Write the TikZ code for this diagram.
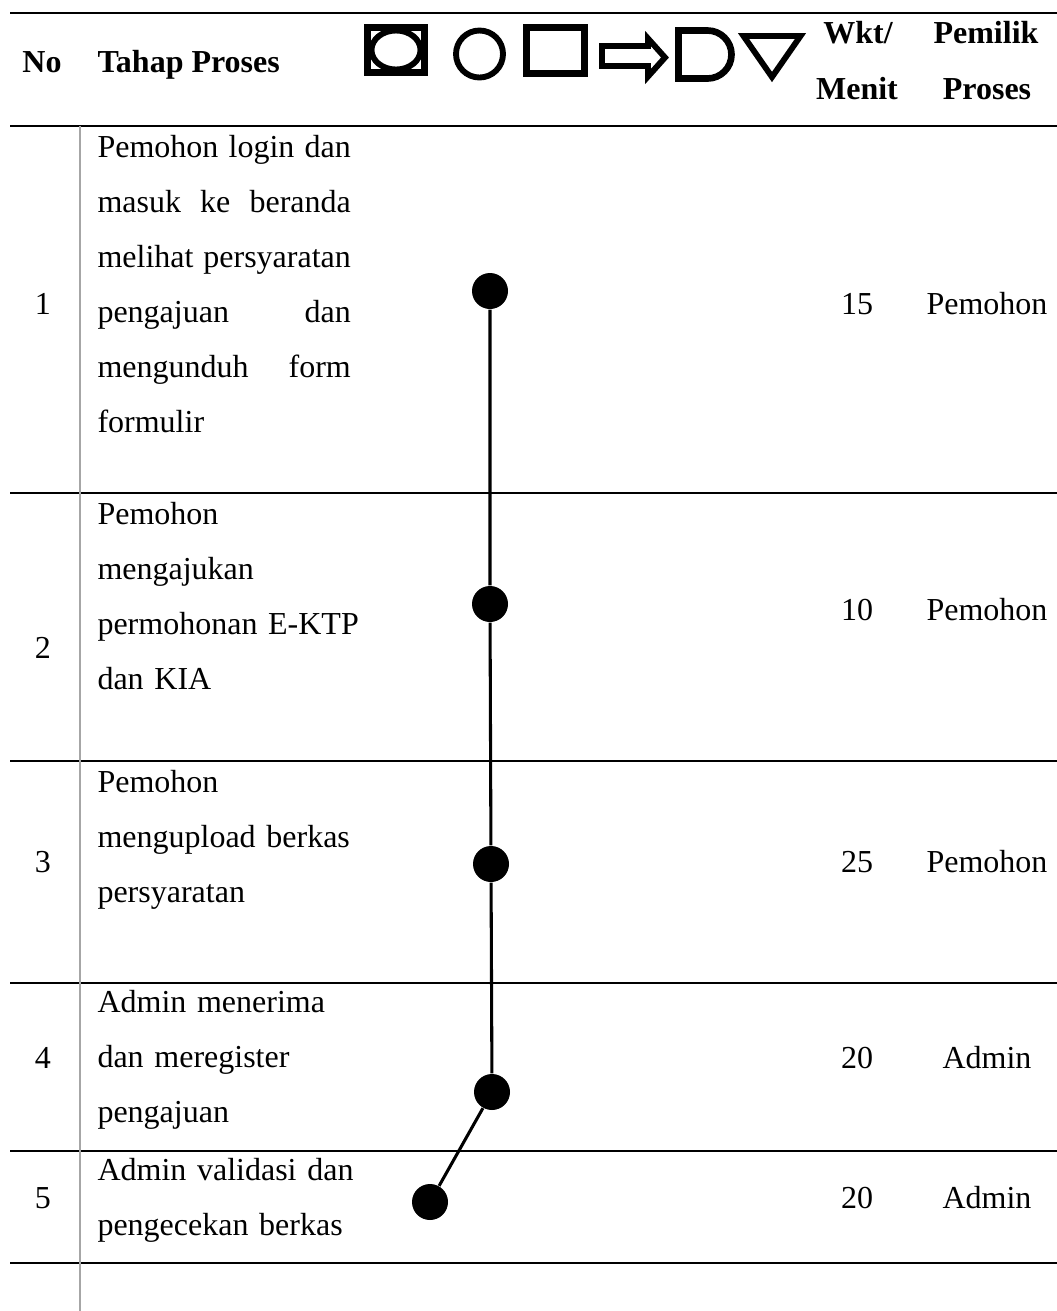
\documentclass[tikz,border=0pt]{standalone}
\usepackage{fontspec}
\setmainfont{Liberation Serif}
\newlength\colw
\setlength\colw{95pt}
% a justified line of the process column (words separated by \hfill)
\newcommand\jl[1]{\leavevmode\hbox to\colw{#1}}
\begin{document}
\begin{tikzpicture}[x=0.375pt,y=-0.375pt,
  hrule/.style={line width=0.85pt},
  vrule/.style={line width=0.75pt, draw=black!35},
  hdr/.style={font=\fontsize{12}{20.625}\selectfont\bfseries, inner sep=0pt, anchor=base},
  cell/.style={font=\fontsize{12}{20.625}\selectfont, inner sep=0pt, anchor=base},
  steptext/.style={font=\fontsize{12}{20.625}\selectfont, inner sep=0pt,
    anchor=north west, text width=102pt, align=left},
  symthick/.style={line width=2.5pt, line join=miter},
  symthin/.style={line width=2.2pt, line join=miter},
  dot/.style={circle, fill=black, minimum size=13.5pt, inner sep=0pt},
  flow/.style={line width=1.15pt}]
\useasboundingbox (0,0) rectangle (1057,1311);

% table rules
\draw[hrule] (10,13) -- (1057,13);
\draw[hrule] (10,126) -- (1057,126);
\foreach \yy in {493,761,983,1151,1263}
  \draw[hrule] (10,\yy) -- (1057,\yy);
\draw[vrule] (80,126) -- (80,1311);

% header
\node[hdr] (hno) at (42,72) {No};
\node[hdr, anchor=base west] (hstep) at (97,72) {Tahap Proses};
\node[hdr] (hwkt) at (858,43) {Wkt/};
\node[hdr] (hmenit) at (857,99) {Menit};
\node[hdr] (hpemilik) at (986,43) {Pemilik};
\node[hdr] (hproses) at (987,99) {Proses};

% header symbols
\draw[symthick] (367.5,27.5) rectangle (424.5,72.5);
\draw[symthin] (396,50) ellipse [x radius=24.5, y radius=19.5];
\draw[symthin] (479.5,54) circle [radius=23.5];
\draw[symthick] (526.5,27.5) rectangle (584.5,73.5);
\draw[symthin] (602,46) -- (648,46) -- (648,38.5) -- (665,57.5)
  -- (648,76.5) -- (648,66) -- (602,66) -- cycle;
\draw[symthick] (678.5,30.5) -- (707.5,30.5) arc[start angle=-90, end angle=90, radius=24]
  -- (678.5,78.5) -- cycle;
\draw[symthin] (743.5,36) -- (800.5,36) -- (772,77) -- cycle;

% row 1
\node[cell] (n1) at (43,314) {1};
\node[steptext] (s1) at (97,135) {\jl{Pemohon\hfill login\hfill dan}\\
  \jl{masuk\hfill ke\hfill beranda}\\ \jl{melihat\hfill persyaratan}\\
  \jl{pengajuan\hfill dan}\\ \jl{mengunduh\hfill form}\\ formulir};
\node[cell] (w1) at (857,314) {15};
\node[cell] (p1) at (987,314) {Pemohon};

% row 2
\node[cell] (n2) at (43,658) {2};
\node[steptext] (s2) at (97,502) {Pemohon\\ mengajukan\\ permohonan E-KTP\\ dan KIA};
\node[cell] (w2) at (857,620) {10};
\node[cell] (p2) at (987,620) {Pemohon};

% row 3
\node[cell] (n3) at (43,872) {3};
\node[steptext] (s3) at (97,770) {Pemohon\\ mengupload berkas\\ persyaratan};
\node[cell] (w3) at (857,872) {25};
\node[cell] (p3) at (987,872) {Pemohon};

% row 4
\node[cell] (n4) at (43,1068) {4};
\node[steptext] (s4) at (97,990) {Admin menerima\\ dan meregister\\ pengajuan};
\node[cell] (w4) at (857,1068) {20};
\node[cell] (p4) at (987,1068) {Admin};

% row 5
\node[cell] (n5) at (43,1208) {5};
\node[steptext] (s5) at (97,1158) {Admin validasi dan\\ pengecekan berkas};
\node[cell] (w5) at (857,1208) {20};
\node[cell] (p5) at (987,1208) {Admin};

% process chart
\node[dot] (d1) at (490,291) {};
\node[dot] (d2) at (490,604) {};
\node[dot] (d3) at (491,864) {};
\node[dot] (d4) at (492,1092) {};
\node[dot] (d5) at (430,1202) {};
\draw[flow] (d1) -- (d2) -- (d3) -- (d4) -- (d5);
\end{tikzpicture}
\end{document}
